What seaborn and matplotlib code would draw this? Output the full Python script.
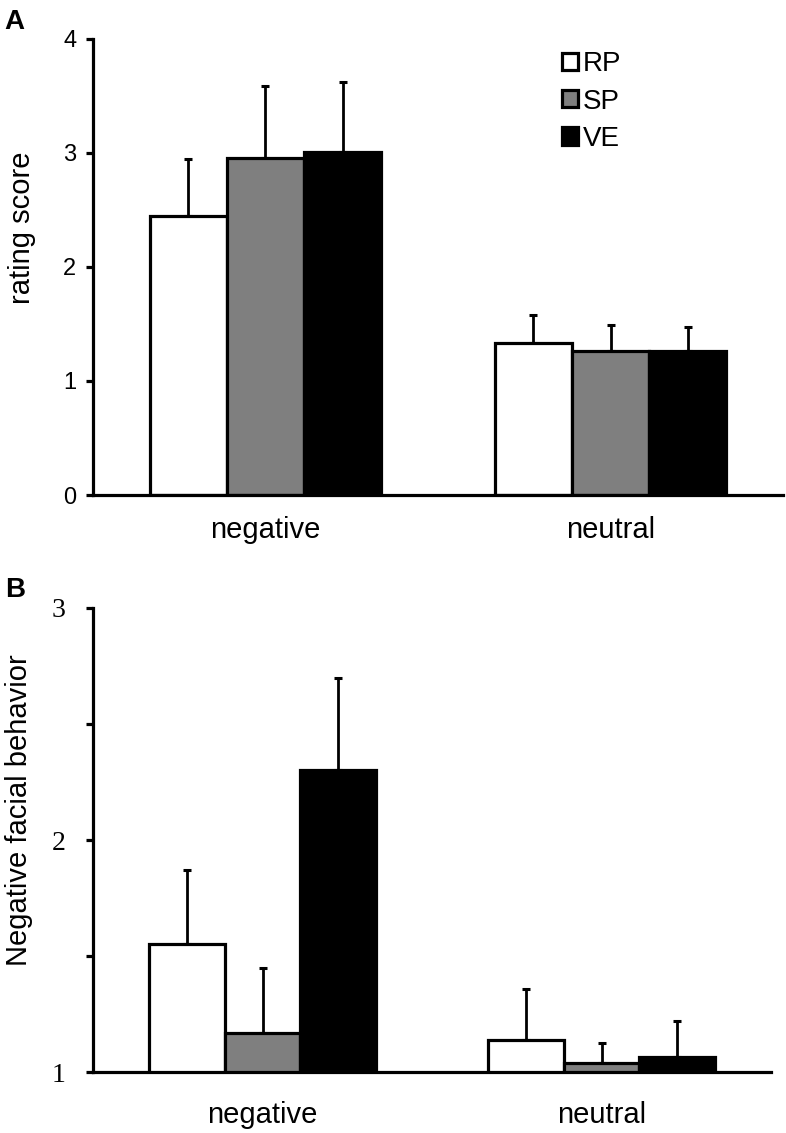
import pandas as pd
import matplotlib.pyplot as plt
import seaborn as sns
from matplotlib.ticker import FixedLocator

# --- Data ---
emotions = ['negative', 'neutral']
conditions = ['RP', 'SP', 'VE']
colors = ['white', '#7f7f7f', 'black']

# Panel A: rating score (mean, upper error bar end)
rating_mean = {'RP': [2.45, 1.33], 'SP': [2.96, 1.26], 'VE': [3.01, 1.26]}
rating_upper = {'RP': [2.95, 1.58], 'SP': [3.59, 1.49], 'VE': [3.62, 1.47]}

# Panel B: negative facial behavior
facial_mean = {'RP': [1.55, 1.14], 'SP': [1.17, 1.04], 'VE': [2.30, 1.065]}
facial_upper = {'RP': [1.87, 1.36], 'SP': [1.45, 1.125], 'VE': [2.70, 1.22]}


def to_long(means):
    rows = []
    for c in conditions:
        for e, v in zip(emotions, means[c]):
            rows.append({'emotion': e, 'condition': c, 'value': v})
    return pd.DataFrame(rows)


sns.set_style('white')
plt.rcParams['font.family'] = ['Liberation Sans', 'DejaVu Sans']
plt.rcParams['text.color'] = 'black'

fig = plt.figure(figsize=(7.86, 11.33), dpi=100)
ax_a = fig.add_axes([0.1183, 0.5631, 0.8779, 0.4025])
ax_b = fig.add_axes([0.1183, 0.0538, 0.8627, 0.4096])


def draw_panel(ax, means, uppers, ylim):
    df = to_long(means)
    sns.barplot(data=df, x='emotion', y='value', hue='condition',
                order=emotions, hue_order=conditions, palette=colors,
                edgecolor='black', linewidth=2.3, width=0.67, gap=0,
                errorbar=None, ax=ax, zorder=2)
    # upper-only error bars at bar centres
    for cont, c in zip(ax.containers, conditions):
        for bar, m, u in zip(cont, means[c], uppers[c]):
            xc = bar.get_x() + bar.get_width() / 2
            ax.errorbar(xc, m, yerr=[[0], [u - m]], fmt='none', ecolor='black',
                        elinewidth=2, capsize=3, capthick=2.2, zorder=1)
    ax.set_xlim(-0.5, 1.5)
    ax.set_ylim(*ylim)
    for side in ['top', 'right']:
        ax.spines[side].set_visible(False)
    for side in ['left', 'bottom']:
        ax.spines[side].set_linewidth(2.3)
        ax.spines[side].set_color('black')
    ax.xaxis.set_minor_locator(FixedLocator([-0.5, 0.5, 1.5]))
    ax.tick_params(axis='x', which='major', length=0)
    ax.tick_params(axis='x', which='minor', length=6, width=2.3, direction='out', color='black')
    ax.tick_params(axis='y', which='both', length=5, width=2.3, direction='out', color='black', left=True)
    ax.set_xlabel('')
    leg = ax.get_legend()
    if leg is not None:
        leg.remove()


# Panel A
draw_panel(ax_a, rating_mean, rating_upper, (0, 4))
ax_a.set_yticks([0, 1, 2, 3, 4])
ax_a.tick_params(axis='y', labelsize=17, pad=7, labelcolor='black')
ax_a.tick_params(axis='x', which='major', labelsize=21, pad=15, labelcolor='black')
ax_a.set_ylabel('rating score', fontsize=21, color='black')
ax_a.yaxis.set_label_coords(-0.083, 0.585)
handles = [ax_a.containers[i][0] for i in range(3)]
ax_a.legend(handles, conditions, loc='upper left', bbox_to_anchor=(0.664, 0.997),
            borderaxespad=0, frameon=False, fontsize=20, handlelength=0.58,
            handleheight=0.58, handletextpad=0.15, labelspacing=0.4)

# Panel B
draw_panel(ax_b, facial_mean, facial_upper, (1, 3))
ax_b.set_yticks([1, 2, 3])
ax_b.yaxis.set_minor_locator(FixedLocator([1.5, 2.5]))
ax_b.tick_params(axis='y', labelsize=20, pad=15, labelcolor='black')
for lbl in ax_b.get_yticklabels():
    lbl.set_family(['Liberation Serif', 'DejaVu Serif'])
ax_b.tick_params(axis='x', which='major', labelsize=21, pad=21, labelcolor='black')
ax_b.set_ylabel('Negative facial behavior', fontsize=21, color='black')
ax_b.yaxis.set_label_coords(-0.089, 0.565)

fig.text(0.006, 0.992, 'A', fontsize=20, fontweight='bold', va='top', ha='left', color='black')
fig.text(0.006, 0.491, 'B', fontsize=20, fontweight='bold', va='top', ha='left', color='black')

fig.savefig('out.png', dpi=100, facecolor='white')
